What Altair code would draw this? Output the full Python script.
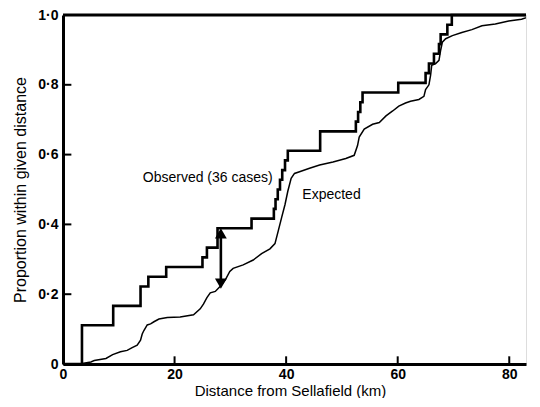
import altair as alt
import pandas as pd

# ---- data ----
obs_km = [3.4, 9.0, 13.9, 15.3, 18.5, 25.0, 25.8, 27.7, 33.8, 37.8, 38.1, 38.5, 38.9,
          39.3, 39.8, 40.3, 46.1, 52.5, 52.9, 53.3, 53.7, 60.1, 65.0, 65.6, 66.5,
          67.4, 67.7, 68.9, 69.7]
obs_cases = [4, 6, 8, 9, 10, 11, 12, 14, 15, 16, 17, 18, 19, 20, 21, 22, 24, 25, 26,
             27, 28, 29, 30, 31, 32, 33, 34, 35, 36]
total_cases = 36

exp_km = [2.9, 5.0, 5.6, 7.7, 8.9, 10.3, 11.5, 12.4, 13.3, 13.9, 14.2, 14.5, 15.1, 15.7,
          16.3, 17.2, 18.7, 21.0, 23.4, 24.6, 25.2, 25.8, 26.4, 27.3, 28.2, 29.1, 29.9,
          30.5, 32.3, 34.1, 35.6, 37.1, 38.0, 38.6, 39.2, 39.8, 40.3, 40.9, 41.5, 42.4,
          44.2, 46.0, 48.4, 50.7, 52.2, 52.8, 53.1, 54.0, 55.5, 56.7, 57.9, 59.1, 60.2,
          61.4, 62.3, 63.8, 64.7, 65.0, 65.6, 65.9, 66.1, 66.8, 67.4, 67.7, 68.0, 68.6,
          69.8, 71.5, 73.3, 75.1, 77.5, 79.9, 82.2, 84.6]
exp_prop = [0.0, 0.006, 0.010, 0.016, 0.027, 0.035, 0.039, 0.047, 0.054, 0.068, 0.086,
            0.096, 0.112, 0.115, 0.121, 0.129, 0.133, 0.135, 0.141, 0.158, 0.172, 0.190,
            0.204, 0.208, 0.223, 0.241, 0.265, 0.274, 0.284, 0.298, 0.316, 0.330, 0.345,
            0.382, 0.420, 0.457, 0.495, 0.532, 0.546, 0.551, 0.561, 0.570, 0.579, 0.589,
            0.598, 0.626, 0.650, 0.673, 0.687, 0.692, 0.711, 0.725, 0.739, 0.748, 0.753,
            0.758, 0.767, 0.786, 0.800, 0.828, 0.856, 0.861, 0.870, 0.899, 0.922, 0.932,
            0.941, 0.950, 0.958, 0.969, 0.974, 0.983, 0.988, 1.0]

x_ticks = [0, 20, 40, 60, 80]
y_ticks = [0, 0.2, 0.4, 0.6, 0.8, 1.0]
x_inner_ticks = [20, 40, 60, 80]
y_inner_ticks = [0.2, 0.4, 0.6, 0.8]
x_max = 83

arrow_km = 28.3
arrow_top = 0.389
arrow_bottom = 0.215

labels = ["Observed (36 cases)", "Expected"]
label_km = [14.3, 42.9]
label_p = [0.532, 0.485]

# ---- tables ----
obs_df = pd.DataFrame({
    "km": [0] + obs_km + [x_max],
    "p": [0] + [c / total_cases for c in obs_cases] + [1.0],
})
exp_df = pd.DataFrame({"km": exp_km, "p": exp_prop})
lab_df = pd.DataFrame({"km": label_km, "p": label_p, "t": labels})

FONT = "Liberation Sans"
xscale = alt.Scale(domain=[0, x_max], nice=False, zero=False)
yscale = alt.Scale(domain=[0, 1], nice=False)

xaxis = alt.Axis(
    values=x_ticks, ticks=False, tickSize=0, grid=False,
    domainColor="black", domainWidth=3,
    labelFont=FONT, labelFontSize=14, labelFontWeight="bold", labelColor="black",
    labelPadding=3, labelFlush=False,
    title="Distance from Sellafield (km)", titleFont=FONT, titleFontSize=15,
    titleFontWeight="normal", titleColor="black", titlePadding=2, titleX=227,
)
yaxis = alt.Axis(
    values=y_ticks, ticks=False, tickSize=0, grid=False,
    domainColor="black", domainWidth=3,
    labelFont=FONT, labelFontSize=14, labelFontWeight="bold", labelColor="black",
    labelPadding=5, labelFlush=False,
    labelExpr="datum.value == 0 ? '0' : replace(format(datum.value, '.1f'), '.', '·')",
    title="Proportion within given distance", titleFont=FONT, titleFontSize=16,
    titleFontWeight="normal", titleColor="black", titlePadding=9,
)

X = alt.X("km:Q", scale=xscale, axis=xaxis, title="Distance from Sellafield (km)")
Y = alt.Y("p:Q", scale=yscale, axis=yaxis, title="Proportion within given distance")

observed = alt.Chart(obs_df).mark_line(
    interpolate="step-after", color="black", strokeWidth=2.6, strokeJoin="miter"
).encode(x=X, y=Y)

expected = alt.Chart(exp_df).mark_line(color="black", strokeWidth=1.5, clip=True).encode(
    x="km:Q", y="p:Q"
)

top_border = alt.Chart(pd.DataFrame({"p": [1.0]})).mark_rule(
    color="black", strokeWidth=3
).encode(y="p:Q", x=alt.datum(0), x2=alt.datum(x_max))

y_in = alt.Chart(pd.DataFrame({"p": y_inner_ticks})).mark_rule(
    color="black", strokeWidth=2
).encode(y="p:Q", x=alt.datum(0), x2=alt.datum(1.5))

x_in = alt.Chart(pd.DataFrame({"km": x_inner_ticks})).mark_rule(
    color="black", strokeWidth=2
).encode(x="km:Q", y=alt.datum(0), y2=alt.datum(0.022))

arrow_df = pd.DataFrame({"km": [arrow_km], "p": [arrow_bottom + 0.015], "p2": [arrow_top - 0.015]})
arrow_shaft = alt.Chart(arrow_df).mark_rule(color="black", strokeWidth=2.6).encode(
    x="km:Q", y="p:Q", y2="p2:Q"
)
head_df = pd.DataFrame({
    "km": [arrow_km, arrow_km],
    "p": [arrow_top - 0.015, arrow_bottom + 0.015],
    "shape": ["triangle-up", "triangle-down"],
})
arrow_heads = alt.Chart(head_df).mark_point(
    filled=True, color="black", size=140, opacity=1
).encode(
    x="km:Q", y="p:Q",
    shape=alt.Shape("shape:N", scale=None, legend=None),
)

texts = alt.Chart(lab_df).mark_text(
    align="left", baseline="middle", font=FONT, fontSize=14, color="black"
).encode(x="km:Q", y="p:Q", text="t:N")

chart = alt.layer(
    observed, expected, top_border, y_in, x_in, arrow_shaft, arrow_heads, texts
).properties(
    width=524, height=390,
    padding={"left": 4, "top": 0, "right": 0, "bottom": 0},
    autosize=alt.AutoSizeParams(type="fit", contains="padding"),
).configure_view(stroke=None).configure(background="white")

chart.save("out.html", embed_options={"renderer": "svg", "actions": False})
